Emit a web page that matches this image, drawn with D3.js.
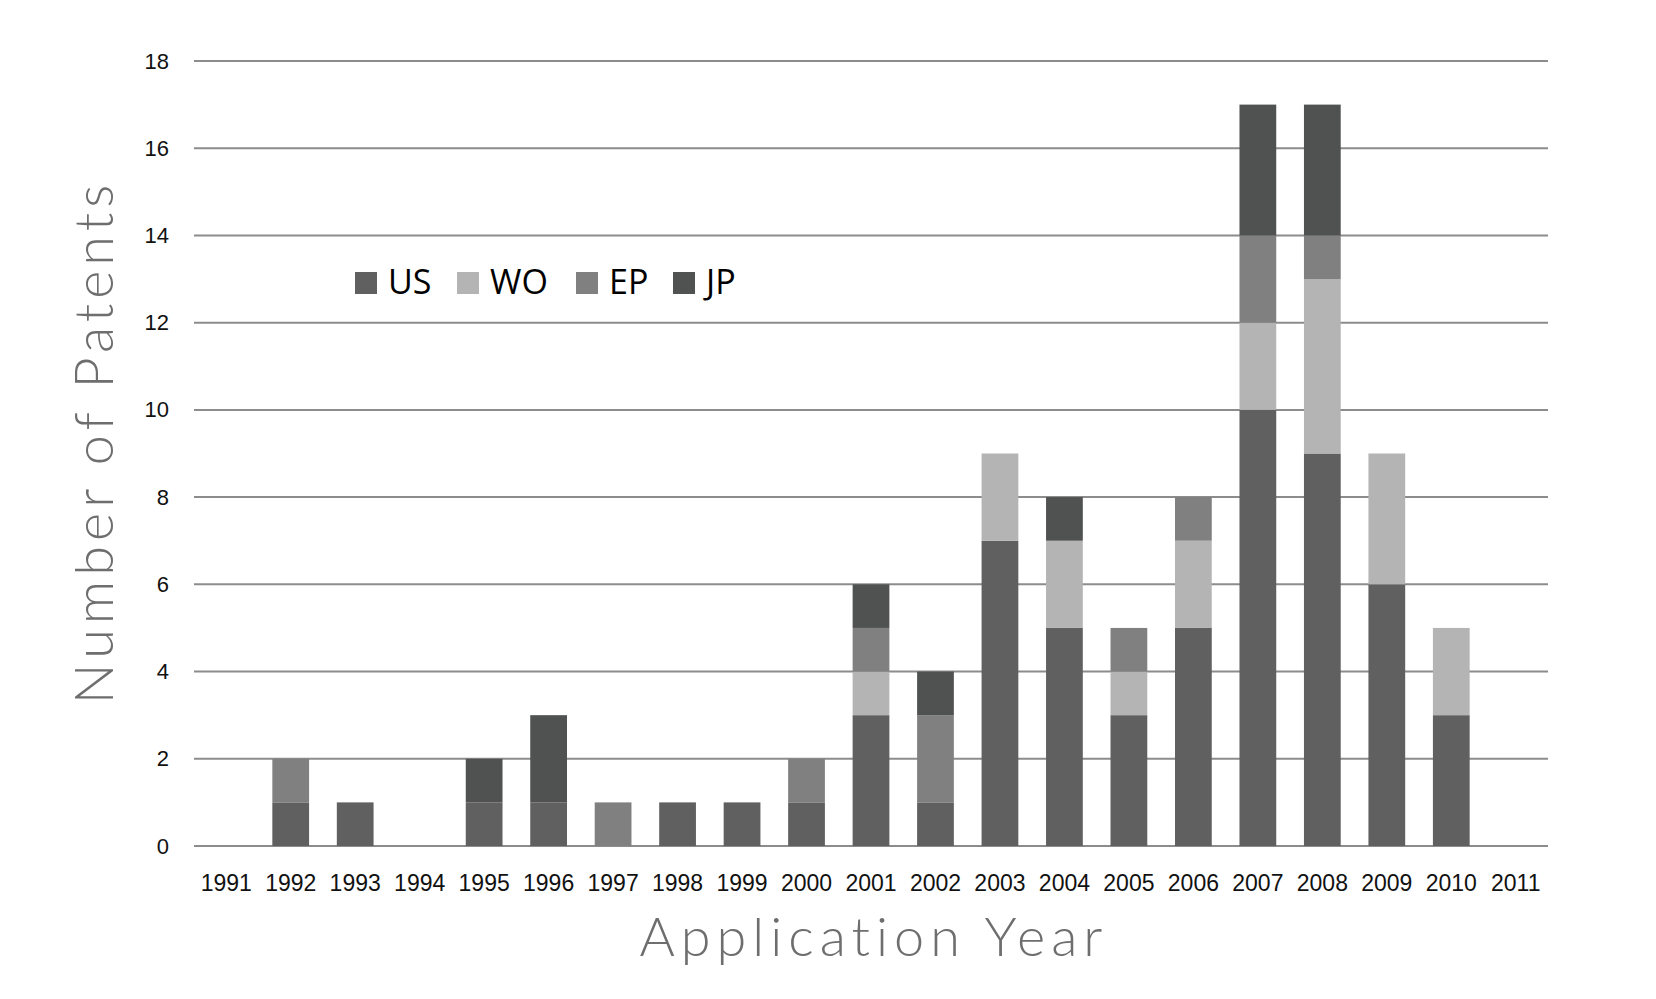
<!DOCTYPE html>
<html>
<head>
<meta charset="utf-8">
<script src="https://cdn.jsdelivr.net/npm/d3@7"></script>
<style>
  body { margin: 0; background: #fff; }
  svg { display: block; }
</style>
</head>
<body>
<div id="content"></div>
<script>
const years = ['1991', '1992', '1993', '1994', '1995', '1996', '1997', '1998', '1999', '2000',
    '2001', '2002', '2003', '2004', '2005', '2006', '2007', '2008', '2009', '2010', '2011'];
const seriesNames = ['US', 'WO', 'EP', 'JP'];
const usValues = [0, 1, 1, 0, 1, 1, 0, 1, 1, 1, 3, 1, 7, 5, 3, 5, 10, 9, 6, 3, 0];
const woValues = [0, 0, 0, 0, 0, 0, 0, 0, 0, 0, 1, 0, 2, 2, 1, 2, 2, 4, 3, 2, 0];
const epValues = [0, 1, 0, 0, 0, 0, 1, 0, 0, 1, 1, 2, 0, 0, 1, 1, 2, 1, 0, 0, 0];
const jpValues = [0, 0, 0, 0, 1, 2, 0, 0, 0, 0, 1, 1, 0, 1, 0, 0, 3, 3, 0, 0, 0];
const yTicks = [0, 2, 4, 6, 8, 10, 12, 14, 16, 18];
const seriesColors = ['#606060', '#b3b4b3', '#808080', '#505151'];

const width = 1656;
const height = 999;
const margin = { top: 61, right: 108, bottom: 153, left: 194 };

const table = years.map((year, i) => ({
    year,
    US: usValues[i],
    WO: woValues[i],
    EP: epValues[i],
    JP: jpValues[i],
}));

const svg = d3.select('#content').append('svg')
    .attr('width', width)
    .attr('height', height);

const x = d3.scaleBand()
    .domain(years)
    .range([margin.left, width - margin.right])
    .paddingInner(0.43)
    .paddingOuter(0.215);

const y = d3.scaleLinear()
    .domain([0, 18])
    .range([height - margin.bottom, margin.top]);

const color = d3.scaleOrdinal().domain(seriesNames).range(seriesColors);

// gridlines
svg.append('g')
    .attr('class', 'grid')
    .selectAll('line')
    .data(yTicks)
    .enter()
    .append('line')
    .attr('x1', margin.left)
    .attr('x2', width - margin.right)
    .attr('y1', d => y(d))
    .attr('y2', d => y(d))
    .style('stroke', '#8c8c8c')
    .style('stroke-width', 2);

const stacked = d3.stack().keys(seriesNames)(table);

svg.append('g')
    .attr('class', 'bars')
    .selectAll('g')
    .data(stacked)
    .enter()
    .append('g')
    .style('fill', s => color(s.key))
    .selectAll('rect')
    .data(s => s.filter(d => d[1] > d[0]))
    .enter()
    .append('rect')
    .attr('x', d => x(d.data.year))
    .attr('width', x.bandwidth())
    .attr('y', d => y(d[1]))
    .attr('height', d => y(d[0]) - y(d[1]));

// y axis labels
const yAxis = svg.append('g')
    .attr('transform', `translate(${margin.left - 25},0)`)
    .call(d3.axisLeft(y).tickValues(yTicks).tickSize(0).tickPadding(0));
yAxis.select('.domain').remove();
yAxis.selectAll('text')
    .style('font-family', '"Liberation Sans", Arial, sans-serif')
    .style('font-size', '22px')
    .style('fill', '#111');

// x axis labels
const xAxis = svg.append('g')
    .attr('transform', `translate(0,${y(0)})`)
    .call(d3.axisBottom(x).tickSize(0).tickPadding(29));
xAxis.select('.domain').remove();
xAxis.selectAll('text')
    .style('font-family', '"Liberation Sans", Arial, sans-serif')
    .style('font-size', '23px')
    .style('fill', '#111');

// axis titles
svg.append('text')
    .attr('transform', `translate(${(margin.left + width - margin.right) / 2 + 3},956)`)
    .attr('text-anchor', 'middle')
    .style('font-family', 'Lato, "Open Sans", sans-serif')
    .style('font-weight', 300)
    .style('font-size', '54px')
    .style('letter-spacing', '6px')
    .style('fill', '#6e6e6e')
    .text('Application Year');

svg.append('text')
    .attr('transform', `translate(113,442) rotate(-90)`)
    .attr('text-anchor', 'middle')
    .style('font-family', 'Lato, "Open Sans", sans-serif')
    .style('font-weight', 300)
    .style('font-size', '54px')
    .style('letter-spacing', '5px')
    .style('fill', '#6e6e6e')
    .text('Number of Patents');

// legend
const legendX = [355, 457, 576, 673];
const legend = svg.append('g')
    .attr('class', 'legend')
    .selectAll('g')
    .data(seriesNames)
    .enter()
    .append('g')
    .attr('transform', (d, i) => `translate(${legendX[i]},272)`);

legend.append('rect')
    .attr('width', 22)
    .attr('height', 22)
    .style('fill', d => color(d));

legend.append('text')
    .attr('x', 33)
    .attr('y', 22)
    .style('font-family', '"Open Sans", "Noto Sans", sans-serif')
    .style('font-size', '34px')
    .style('fill', '#000')
    .text(d => d);
</script>
</body>
</html>
